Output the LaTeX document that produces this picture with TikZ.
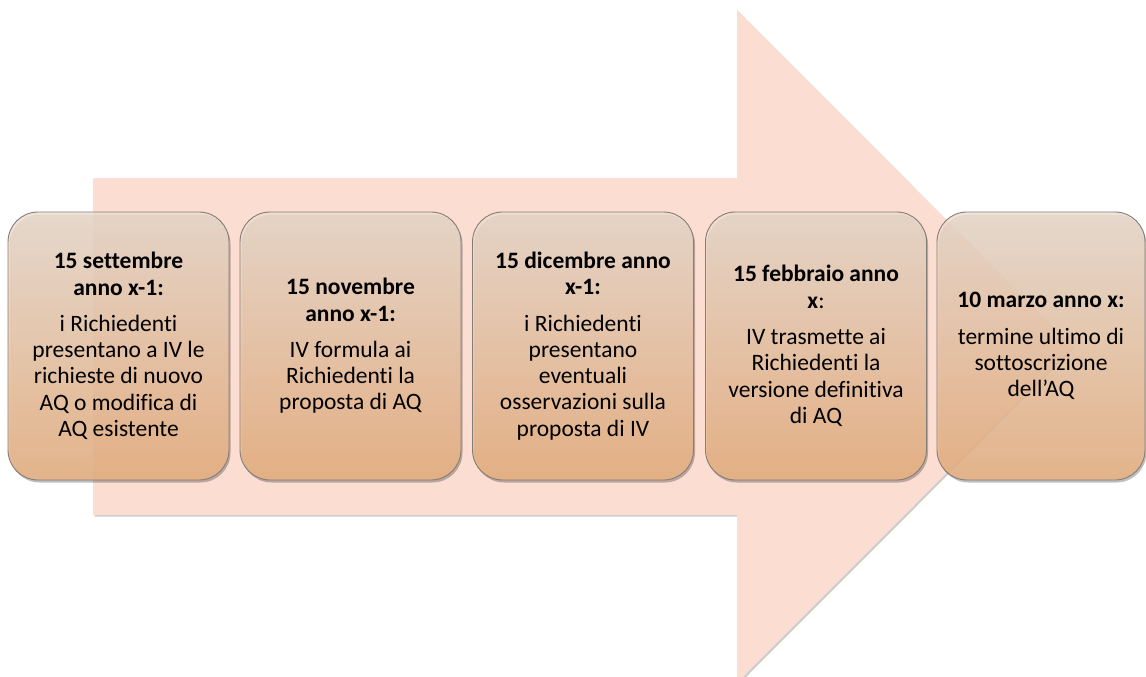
\documentclass[tikz,border=0pt]{standalone}
\usepackage{fontspec}
\setmainfont{Carlito}[Ligatures=CommonOff]
\usetikzlibrary{shadows}
\definecolor{arrowfill}{RGB}{251,221,209}
\definecolor{boxtop}{RGB}{238,222,208}
\definecolor{boxbot}{RGB}{236,178,128}
\definecolor{boxline}{RGB}{130,125,120}
\tikzset{
  stagebox/.style={draw=boxline, line width=0.9pt, rounded corners=30pt,
    top color=boxtop, bottom color=boxbot, fill opacity=0.82, text opacity=1,
    minimum width=221pt, minimum height=268pt, align=center, text=black,
    font=\fontsize{23.5}{26.3}\selectfont,
    drop shadow={shadow xshift=1.5pt, shadow yshift=-2.5pt, opacity=0.25, fill=black}},
  bigarrow/.style={fill=arrowfill, draw=none,
    drop shadow={shadow xshift=1.5pt, shadow yshift=-1.5pt, opacity=0.2, fill=black}}
}
\begin{document}
\begin{tikzpicture}[x=1pt,y=-1pt]
\useasboundingbox (0,0) rectangle (1146,677);
\path[bigarrow] (93,178) -- (737,178) -- (737,10) -- (1073,346.5) -- (737,683) -- (737,515) -- (93,515) -- cycle;
\node[stagebox] (b1) at (118.5,346) {\textbf{15 settembre}\\\textbf{anno x-1:}\\[10pt]i Richiedenti\\presentano a IV le\\richieste di nuovo\\AQ o modifica di\\AQ esistente};
\node[stagebox] (b2) at (350.5,346) {\textbf{15 novembre}\\\textbf{anno x-1:}\\[10pt]IV formula ai\\Richiedenti la\\proposta di AQ};
\node[stagebox] (b3) at (583,346) {\textbf{15 dicembre anno}\\\textbf{x-1:}\\[10pt]i Richiedenti\\presentano\\eventuali\\osservazioni sulla\\proposta di IV};
\node[stagebox] (b4) at (816,346) {\textbf{15 febbraio anno}\\\textbf{x}:\\[10pt]IV trasmette ai\\Richiedenti la\\versione definitiva\\di AQ};
\node[stagebox, minimum width=208pt] (b5) at (1041,346) {\textbf{10 marzo anno x:}\\[10pt]termine ultimo di\\sottoscrizione\\dell’AQ};
\end{tikzpicture}
\end{document}
